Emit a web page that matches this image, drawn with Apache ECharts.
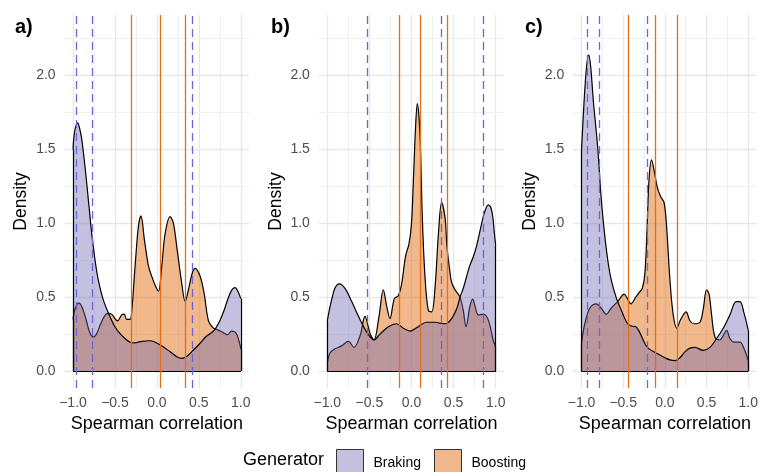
<!DOCTYPE html>
<html><head><meta charset="utf-8">
<script src="https://cdn.jsdelivr.net/npm/echarts@6/dist/echarts.min.js"></script>
<style>html,body{margin:0;padding:0;background:#fff}#c{width:761px;height:472px}</style>
</head><body><div id="c"></div>
<script>
// ---------- data ----------
const panelLabels = ['a)', 'b)', 'c)'];
const seriesNames = ['Braking', 'Boosting'];
const xTicks = [-1, -0.5, 0, 0.5, 1];
const yTicks = [0, 0.5, 1, 1.5, 2];
const xMinor = [-0.75, -0.25, 0.25, 0.75];
const yMinor = [0.25, 0.75, 1.25, 1.75, 2.25];

const brakingA = [[-1.00,1.50],[-0.98,1.62],[-0.944,1.68],[-0.92,1.64],[-0.896,1.57],[-0.857,1.385],[-0.817,1.16],[-0.777,0.93],[-0.737,0.75],[-0.698,0.615],[-0.638,0.48],[-0.558,0.366],[-0.50,0.30],[-0.439,0.253],[-0.38,0.22],[-0.32,0.195],[-0.26,0.19],[-0.20,0.199],[-0.08,0.205],[0.04,0.176],[0.157,0.131],[0.237,0.097],[0.297,0.086],[0.357,0.10],[0.436,0.142],[0.515,0.188],[0.58,0.23],[0.64,0.255],[0.69,0.28],[0.75,0.34],[0.80,0.41],[0.86,0.51],[0.90,0.555],[0.933,0.565],[0.965,0.54],[1.00,0.49]];
const boostingA = [[-1.00,0.35],[-0.97,0.43],[-0.928,0.46],[-0.89,0.43],[-0.84,0.34],[-0.80,0.26],[-0.76,0.23],[-0.72,0.25],[-0.67,0.32],[-0.62,0.375],[-0.58,0.39],[-0.54,0.385],[-0.47,0.34],[-0.42,0.38],[-0.39,0.385],[-0.36,0.35],[-0.32,0.35],[-0.30,0.40],[-0.26,0.71],[-0.22,0.98],[-0.19,1.05],[-0.149,0.89],[-0.10,0.71],[-0.061,0.64],[-0.021,0.58],[0.018,0.54],[0.058,0.71],[0.098,0.93],[0.158,1.045],[0.197,1.0],[0.237,0.84],[0.297,0.59],[0.337,0.47],[0.376,0.55],[0.42,0.66],[0.456,0.695],[0.516,0.64],[0.563,0.525],[0.615,0.34],[0.674,0.29],[0.72,0.28],[0.79,0.26],[0.84,0.245],[0.89,0.27],[0.94,0.26],[0.98,0.20],[1.00,0.15]];

const brakingB = [[-1.00,0.34],[-0.97,0.43],[-0.95,0.48],[-0.91,0.56],[-0.86,0.59],[-0.79,0.56],[-0.71,0.47],[-0.63,0.37],[-0.55,0.28],[-0.49,0.23],[-0.446,0.21],[-0.374,0.25],[-0.275,0.30],[-0.177,0.32],[-0.097,0.29],[-0.018,0.27],[0.08,0.30],[0.18,0.33],[0.28,0.33],[0.38,0.32],[0.457,0.34],[0.536,0.42],[0.576,0.50],[0.615,0.56],[0.69,0.71],[0.735,0.775],[0.77,0.84],[0.834,1.0],[0.87,1.08],[0.912,1.125],[0.94,1.11],[0.964,1.05],[0.985,0.93],[1.00,0.85]];
const boostingB = [[-1.00,0.05],[-0.97,0.12],[-0.91,0.15],[-0.83,0.17],[-0.75,0.20],[-0.683,0.16],[-0.61,0.24],[-0.553,0.37],[-0.49,0.25],[-0.446,0.21],[-0.386,0.37],[-0.335,0.55],[-0.295,0.44],[-0.256,0.355],[-0.204,0.49],[-0.157,0.51],[-0.117,0.59],[-0.07,0.78],[-0.03,0.86],[0.00,1.0],[0.021,1.27],[0.049,1.66],[0.069,1.81],[0.10,1.61],[0.128,1.05],[0.16,0.64],[0.20,0.41],[0.24,0.40],[0.28,0.57],[0.32,0.93],[0.358,1.14],[0.40,1.03],[0.42,0.85],[0.45,0.70],[0.477,0.60],[0.517,0.55],[0.576,0.50],[0.615,0.41],[0.647,0.30],[0.695,0.44],[0.727,0.486],[0.754,0.44],[0.794,0.38],[0.853,0.385],[0.912,0.346],[0.97,0.21],[1.00,0.165]];

const brakingC = [[-1.00,1.50],[-0.97,1.82],[-0.94,2.06],[-0.914,2.14],[-0.89,2.06],[-0.86,1.84],[-0.83,1.66],[-0.804,1.50],[-0.763,1.16],[-0.724,0.93],[-0.685,0.75],[-0.645,0.62],[-0.586,0.50],[-0.507,0.39],[-0.448,0.32],[-0.40,0.305],[-0.349,0.30],[-0.31,0.27],[-0.231,0.176],[-0.19,0.15],[-0.10,0.12],[0.00,0.09],[0.06,0.075],[0.12,0.07],[0.18,0.09],[0.24,0.13],[0.30,0.155],[0.36,0.16],[0.46,0.14],[0.54,0.16],[0.62,0.22],[0.70,0.29],[0.78,0.38],[0.855,0.47],[0.90,0.47],[0.95,0.39],[1.00,0.275]];
const boostingC = [[-1.00,0.19],[-0.961,0.32],[-0.902,0.425],[-0.823,0.455],[-0.763,0.425],[-0.704,0.384],[-0.645,0.425],[-0.567,0.47],[-0.488,0.52],[-0.45,0.49],[-0.408,0.455],[-0.349,0.50],[-0.31,0.53],[-0.271,0.56],[-0.24,0.66],[-0.215,0.95],[-0.19,1.30],[-0.16,1.43],[-0.13,1.36],[-0.09,1.24],[-0.05,1.18],[-0.01,1.14],[0.02,0.98],[0.06,0.62],[0.10,0.38],[0.143,0.29],[0.19,0.35],[0.254,0.40],[0.30,0.34],[0.35,0.32],[0.42,0.33],[0.46,0.42],[0.50,0.55],[0.53,0.52],[0.56,0.38],[0.60,0.23],[0.657,0.21],[0.70,0.24],[0.74,0.275],[0.78,0.22],[0.83,0.195],[0.90,0.195],[0.95,0.15],[1.00,0.07]];

const brakingLinesA = [-0.964, -0.77, 0.425];
const boostingLinesA = [-0.30, 0.036, 0.345];
const brakingLinesB = [-0.532, 0.35, 0.853];
const boostingLinesB = [-0.137, 0.097, 0.425];
const brakingLinesC = [-0.929, -0.79, -0.212];
const boostingLinesC = [-0.44, -0.124, 0.148];

// ---------- styling / layout ----------
const FONT = '"Liberation Sans", Arial, sans-serif';
const brakingFill = 'rgba(108,100,178,0.4)';
const boostingFill = 'rgba(226,114,24,0.5)';
const brakingKey = '#C4C1E0';
const boostingKey = '#F0B88C';
const brakingLineColor = '#6E64D2';
const boostingLineColor = '#E46E1A';
const grids = [
  {left: 64.6, top: 15, width: 184.6, height: 373},
  {left: 318.9, top: 15, width: 185.2, height: 373},
  {left: 573.2, top: 15, width: 185.9, height: 373}
];
const panels = [
  {braking: brakingA, boosting: boostingA, bl: brakingLinesA, ol: boostingLinesA},
  {braking: brakingB, boosting: boostingB, bl: brakingLinesB, ol: boostingLinesB},
  {braking: brakingC, boosting: boostingC, bl: brakingLinesC, ol: boostingLinesC}
];

const fmtX = v => (v < 0 ? '\u2212' : '') + Math.abs(v).toFixed(1);
const xAxes = [], yAxes = [], series = [], graphics = [];

function outline(d) {
  const f = d[0], l = d[d.length - 1];
  return [
    [{coord: [f[0], 0]}, {coord: [f[0], f[1]]}],
    [{coord: [l[0], 0]}, {coord: [l[0], l[1]]}],
    [{coord: [f[0], 0]}, {coord: [l[0], 0]}]
  ];
}

panels.forEach((p, i) => {
  xAxes.push({
    type: 'value', gridIndex: i, min: -1.1, max: 1.1,
    name: 'Spearman correlation', nameLocation: 'middle', nameGap: 19,
    nameTextStyle: {fontFamily: FONT, fontSize: 18, color: '#000'},
    axisLine: {show: false, onZero: false}, axisTick: {show: false}, splitLine: {show: false},
    axisLabel: {customValues: xTicks, formatter: fmtX, fontFamily: FONT, fontSize: 14, color: '#4D4D4D', margin: 8}
  });
  yAxes.push({
    type: 'value', gridIndex: i, min: -0.115, max: 2.41,
    name: 'Density', nameLocation: 'middle', nameGap: 34,
    nameTextStyle: {fontFamily: FONT, fontSize: 17.5, color: '#000'},
    axisLine: {show: false, onZero: false}, axisTick: {show: false}, splitLine: {show: false},
    axisLabel: {customValues: yTicks, formatter: v => v.toFixed(1), fontFamily: FONT, fontSize: 14, color: '#4D4D4D', margin: 9}
  });
  const gl = [];
  xTicks.forEach(v => gl.push({xAxis: v, lineStyle: {color: '#E8E8E8', width: 1.4, type: 'solid'}}));
  xMinor.forEach(v => gl.push({xAxis: v, lineStyle: {color: '#F0F0F0', width: 1, type: 'solid'}}));
  yTicks.forEach(v => gl.push({yAxis: v, lineStyle: {color: '#E8E8E8', width: 1.4, type: 'solid'}}));
  yMinor.forEach(v => gl.push({yAxis: v, lineStyle: {color: '#F0F0F0', width: 1, type: 'solid'}}));
  series.push({
    type: 'line', name: 'grid' + i, xAxisIndex: i, yAxisIndex: i, data: [], z: 1, silent: true,
    markLine: {z: 1, silent: true, symbol: ['none', 'none'], label: {show: false}, animation: false, data: gl}
  });
  [['Boosting', p.boosting, boostingFill, 2], ['Braking', p.braking, brakingFill, 4]].forEach(([nm, d, fill, z]) => {
    series.push({
      type: 'line', name: nm, xAxisIndex: i, yAxisIndex: i, data: d, z: z,
      smooth: 0.35, symbol: 'none', showSymbol: false, silent: true,
      itemStyle: {color: nm === 'Braking' ? brakingKey : boostingKey},
      lineStyle: {color: '#000', width: 1.2},
      areaStyle: {color: fill, opacity: 1},
      markLine: {z: z + 1, silent: true, symbol: ['none', 'none'], label: {show: false}, animation: false,
        lineStyle: {color: '#000', width: 1.2, type: 'solid'}, data: outline(d)}
    });
  });
  const vl = [];
  p.bl.forEach(v => vl.push({xAxis: v, lineStyle: {color: brakingLineColor, width: 1.3, type: [8, 5]}}));
  p.ol.forEach(v => vl.push({xAxis: v, lineStyle: {color: boostingLineColor, width: 1.3, type: 'solid'}}));
  series.push({
    type: 'line', name: 'q' + i, xAxisIndex: i, yAxisIndex: i, data: [], z: 7, silent: true,
    markLine: {z: 7, silent: true, symbol: ['none', 'none'], label: {show: false}, animation: false, data: vl}
  });
  graphics.push({type: 'text', x: [15, 271, 525][i], y: 27,
    style: {text: panelLabels[i], font: 'bold 20px ' + FONT, fill: '#000', verticalAlign: 'middle'}});
});

graphics.push({type: 'text', x: 243, y: 460,
  style: {text: 'Generator', font: '18px ' + FONT, fill: '#000', verticalAlign: 'middle'}});

const chart = echarts.init(document.getElementById('c'), null, {renderer: 'canvas'});
chart.setOption({
  animation: false,
  backgroundColor: '#fff',
  grid: grids,
  xAxis: xAxes,
  yAxis: yAxes,
  series: series,
  graphic: graphics,
  legend: {
    left: 336, top: 449, padding: 0, itemGap: 13, itemWidth: 27, itemHeight: 27,
    selectedMode: false,
    textStyle: {fontFamily: FONT, fontSize: 14, color: '#000', padding: [0, 0, 4, 5]},
    data: [
      {name: 'Braking', icon: 'rect', itemStyle: {color: brakingKey, borderColor: '#333', borderWidth: 1}},
      {name: 'Boosting', icon: 'rect', itemStyle: {color: boostingKey, borderColor: '#333', borderWidth: 1}}
    ]
  }
});
</script></body></html>
